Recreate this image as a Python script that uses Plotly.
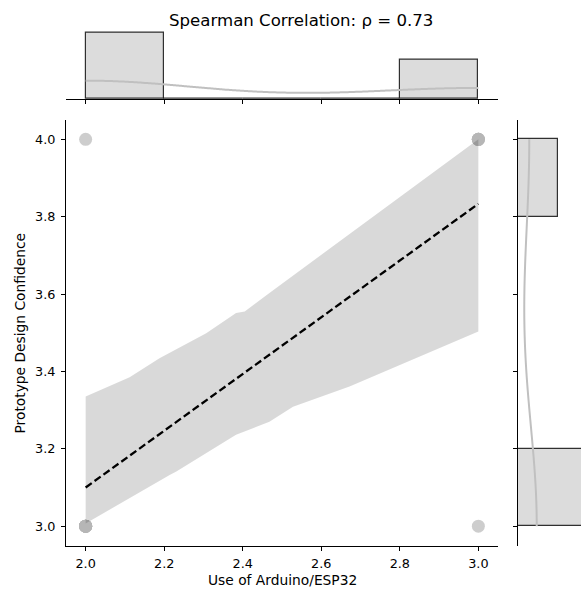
import numpy as np
import plotly.graph_objects as go

# ---------------- data ----------------
arduino_use = [2, 2, 2, 2, 2, 2, 2, 2, 2, 2, 3, 3, 3, 3, 3, 3]
design_conf = [3, 3, 3, 3, 3, 3, 3, 3, 3, 4, 3, 4, 4, 4, 4, 4]

# bootstrap confidence band
ci_upper_x = [2.0, 2.112, 2.188, 2.307, 2.383, 2.405, 2.468, 3.0]
ci_upper_y = [3.335, 3.385, 3.434, 3.499, 3.551, 3.555, 3.603, 4.0]
ci_lower_x = [2.0, 2.214, 2.231, 2.383, 2.426, 2.468, 2.528, 2.672, 2.693, 3.0]
ci_lower_y = [3.007, 3.132, 3.141, 3.236, 3.253, 3.270, 3.309, 3.361, 3.370, 3.503]

x_ticks = [2.0, 2.2, 2.4, 2.6, 2.8, 3.0]
y_ticks = [3.0, 3.2, 3.4, 3.6, 3.8, 4.0]
title_text = "Spearman Correlation: \u03c1 = 0.73"
x_label = "Use of Arduino/ESP32"
y_label = "Prototype Design Confidence"

# ---------------- derived ----------------
xa = np.array(arduino_use, dtype=float)
ya = np.array(design_conf, dtype=float)

slope, intercept = np.polyfit(xa, ya, 1)
fit_x = np.array([xa.min(), xa.max()])
fit_y = intercept + slope * fit_x


def kde_counts(data, lo, hi, binw, n=200):
    data = np.asarray(data, dtype=float)
    bw = data.std(ddof=1) * len(data) ** (-1 / 5)
    grid = np.linspace(lo, hi, n)
    dens = np.exp(-0.5 * ((grid[:, None] - data[None, :]) / bw) ** 2).sum(1)
    dens /= len(data) * bw * np.sqrt(2 * np.pi)
    return grid, dens * len(data) * binw


binw = 0.2
cx, _ex = np.histogram(xa, bins=5, range=(2, 3))
cy, _ey = np.histogram(ya, bins=5, range=(3, 4))
centers_x = (_ex[:-1] + _ex[1:]) / 2
centers_y = (_ey[:-1] + _ey[1:]) / 2
kx, kxv = kde_counts(xa, 2, 3, binw)
ky, kyv = kde_counts(ya, 3, 4, binw)

W, H = 581, 590


def fx(p):
    return p / W


def fy(p):
    return 1 - p / H


fig = go.Figure()

# scatter
fig.add_trace(go.Scatter(
    x=arduino_use, y=design_conf, mode="markers",
    marker=dict(size=13, color="rgb(182,182,182)", opacity=0.68, line=dict(width=0)),
    xaxis="x", yaxis="y", showlegend=False))

# CI band
fig.add_trace(go.Scatter(
    x=ci_upper_x + ci_lower_x[::-1], y=ci_upper_y + ci_lower_y[::-1],
    fill="toself", fillcolor="rgba(0,0,0,0.15)", line=dict(width=0),
    mode="lines", xaxis="x", yaxis="y", showlegend=False))

# regression line
fig.add_trace(go.Scatter(
    x=fit_x, y=fit_y, mode="lines",
    line=dict(color="black", width=2.3, dash="7.5px,3.5px"),
    xaxis="x", yaxis="y", showlegend=False))

# top marginal histogram
fig.add_trace(go.Bar(
    x=centers_x, y=cx, width=binw,
    marker=dict(color="#dcdcdc", line=dict(color="rgba(0,0,0,0.8)", width=1.2)),
    xaxis="x2", yaxis="y2", showlegend=False))
fig.add_trace(go.Scatter(
    x=kx, y=kxv, mode="lines", line=dict(color="rgb(192,192,192)", width=2, shape="spline"),
    xaxis="x2", yaxis="y2", showlegend=False))

# right marginal histogram
fig.add_trace(go.Bar(
    y=centers_y, x=cy, width=binw, orientation="h",
    marker=dict(color="#dcdcdc", line=dict(color="rgba(0,0,0,0.8)", width=1.2)),
    xaxis="x3", yaxis="y3", showlegend=False))
fig.add_trace(go.Scatter(
    x=kyv, y=ky, mode="lines", line=dict(color="rgb(192,192,192)", width=2, shape="spline"),
    xaxis="x3", yaxis="y3", showlegend=False))

tickfont = dict(family="DejaVu Sans", size=12.8, color="black")
main_x_dom = [fx(66), fx(498)]
main_y_dom = [fy(545.5), fy(120)]

fig.update_layout(
    width=W, height=H,
    margin=dict(l=0, r=0, t=0, b=0),
    paper_bgcolor="white", plot_bgcolor="white",
    font=dict(family="DejaVu Sans", color="black"),
    showlegend=False,
    bargap=0,
    xaxis=dict(domain=main_x_dom, range=[1.95, 3.05], anchor="y",
               showline=True, linecolor="black", linewidth=1, mirror=False,
               ticks="outside", ticklen=4, tickwidth=1, tickcolor="black",
               tickvals=x_ticks, ticktext=[f"{v:.1f}" for v in x_ticks],
               tickfont=tickfont, showgrid=False, zeroline=False,
               automargin=False, ticklabelstandoff=2),
    yaxis=dict(domain=main_y_dom, range=[2.95, 4.05], anchor="x",
               showline=True, linecolor="black", linewidth=1,
               ticks="outside", ticklen=4, tickwidth=1, tickcolor="black",
               tickvals=y_ticks, ticktext=[f"{v:.1f}" for v in y_ticks],
               tickfont=tickfont, showgrid=False, zeroline=False,
               automargin=False, ticklabelstandoff=3),
    xaxis2=dict(domain=main_x_dom, range=[1.95, 3.05], anchor="y2",
                showline=True, linecolor="black", linewidth=1,
                ticks="outside", ticklen=4, tickwidth=1, tickcolor="black",
                tickvals=x_ticks, showticklabels=False,
                showgrid=False, zeroline=False, automargin=False),
    yaxis2=dict(domain=[fy(99), fy(29.7)], range=[0, 10.5], anchor="x2",
                visible=False, showgrid=False, zeroline=False),
    xaxis3=dict(domain=[fx(518), 1.0], range=[0, 9.36], anchor="y3",
                visible=False, showgrid=False, zeroline=False),
    yaxis3=dict(domain=main_y_dom, range=[2.95, 4.05], anchor="x3",
                showline=True, linecolor="black", linewidth=1,
                ticks="outside", ticklen=4, tickwidth=1, tickcolor="black",
                tickvals=y_ticks, showticklabels=False,
                showgrid=False, zeroline=False, automargin=False),
    annotations=[
        dict(text=title_text, x=fx(301), y=fy(21), xref="paper", yref="paper",
             xanchor="center", yanchor="middle", showarrow=False,
             font=dict(family="DejaVu Sans", size=16.6, color="black")),
        dict(text=x_label, x=fx(282), y=fy(580), xref="paper", yref="paper",
             xanchor="center", yanchor="middle", showarrow=False,
             font=dict(family="DejaVu Sans", size=13.8, color="black")),
        dict(text=y_label, x=fx(19.5), y=fy(333), xref="paper", yref="paper",
             xanchor="center", yanchor="middle", showarrow=False, textangle=-90,
             font=dict(family="DejaVu Sans", size=13.8, color="black")),
    ],
)

fig.write_html(
    "out.html",
    config={"displayModeBar": False},
    post_script="document.body.style.margin='0px';document.body.style.overflow='hidden';",
)
